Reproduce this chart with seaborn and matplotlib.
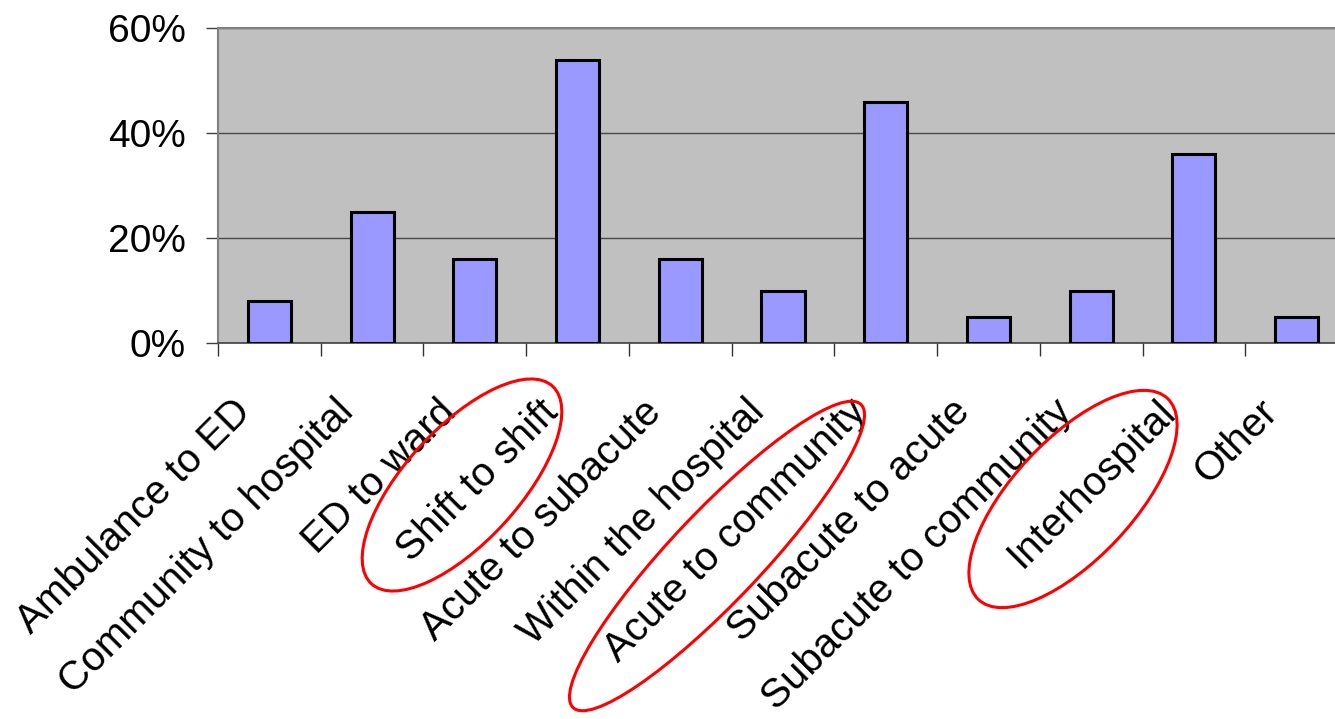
import numpy as np
import matplotlib
matplotlib.use("Agg")
import matplotlib.pyplot as plt
import matplotlib.transforms as mtransforms
from matplotlib.patches import Ellipse
from matplotlib.ticker import FuncFormatter, FixedLocator
import seaborn as sns

# data
categories = ["Ambulance to ED", "Community to hospital", "ED to ward", "Shift to shift",
              "Acute to subacute", "Within the hospital", "Acute to community",
              "Subacute to acute", "Subacute to community", "Interhospital", "Other"]
values = [8, 25, 16, 54, 16, 10, 46, 5, 10, 36, 5]
y_ticks = [0, 20, 40, 60]

sns.set_theme(style="white")
plt.rcParams['font.family'] = ['Liberation Sans', 'DejaVu Sans']
plt.rcParams['text.color'] = 'black'
plt.rcParams['xtick.color'] = 'black'
plt.rcParams['ytick.color'] = 'black'

W, H = 1335, 719
fig = plt.figure(figsize=(W / 100, H / 100), dpi=100)
ax = fig.add_axes([218 / W, (H - 343) / H, 1130 / W, 315 / H])

sns.barplot(x=categories, y=values, color="#9999FF", saturation=1, edgecolor="black",
            linewidth=2.2, width=0.42, ax=ax, zorder=3)

ax.set_facecolor("#C0C0C0")
ax.set_xlim(-0.5, len(categories) - 0.5)
ax.set_ylim(0, 60)
ax.set_yticks(y_ticks)
ax.yaxis.set_major_formatter(FuncFormatter(lambda v, p: f"{v:.0f}%"))
ax.yaxis.grid(True, color="#4a4a4a", linewidth=1.0)
ax.set_axisbelow(True)
ax.set_xlabel("")
ax.set_ylabel("")

for s in ["left", "top"]:
    ax.spines[s].set_color("#808080")
    ax.spines[s].set_linewidth(1.5)
ax.spines["bottom"].set_color("#404040")
ax.spines["bottom"].set_linewidth(1.2)
ax.spines["right"].set_visible(False)

ax.tick_params(axis="y", left=True, length=9, width=1, color="#404040",
               labelsize=28, labelcolor="black", pad=14)
# tick marks sit between the categories, labels at the centres
ax.xaxis.set_minor_locator(FixedLocator(np.arange(-0.5, len(categories), 1.0)))
ax.tick_params(axis="x", which="minor", bottom=True, length=9.5, width=1, color="#333333")
ax.tick_params(axis="x", which="major", bottom=True, length=0, pad=0, labelsize=29,
               labelcolor="black")
ax.set_xticks(range(len(categories)))
ax.set_xticklabels(categories, rotation=45, ha="right", va="center",
                   rotation_mode="anchor")
offset = mtransforms.ScaledTranslation(-25 / 100, -63 / 100, fig.dpi_scale_trans)
for lbl in ax.get_xticklabels():
    lbl.set_transform(lbl.get_transform() + offset)

# red ellipses drawn round three of the labels (pixel space overlay)
over = fig.add_axes([0, 0, 1, 1], zorder=10)
over.set_xlim(0, W)
over.set_ylim(0, H)
over.axis("off")
over.patch.set_alpha(0)
ell = [((462, 485), 268, 114, 47.5), ((717, 556), 418, 90, 46.5), ((1073, 499), 276, 120, 46.8)]
for (cx, cy), w, h, ang in ell:
    over.add_patch(Ellipse((cx, H - cy), w, h, angle=ang, fill=False,
                           edgecolor="red", linewidth=2.2))

fig.savefig("out.png", dpi=100)
